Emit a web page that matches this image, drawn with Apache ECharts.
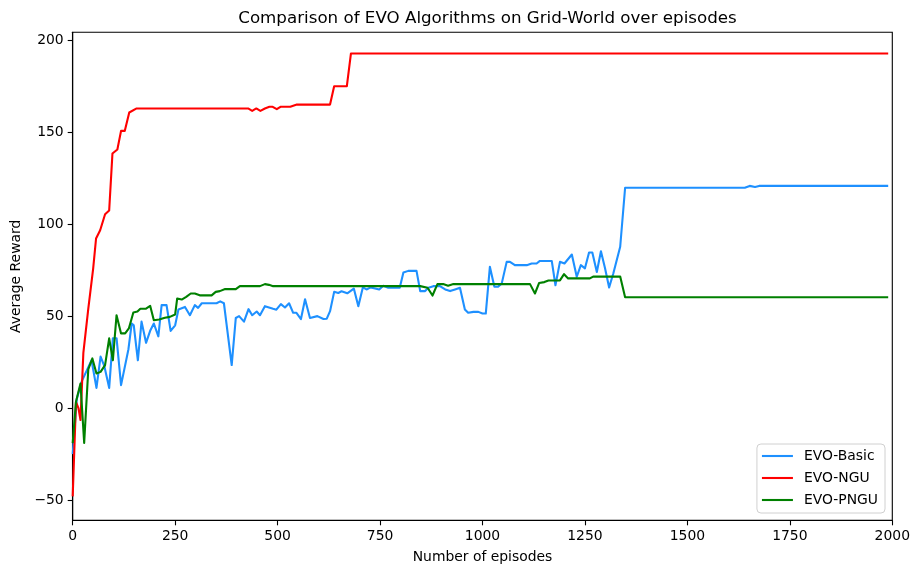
<!DOCTYPE html>
<html>
<head>
<meta charset="utf-8">
<script src="https://cdn.jsdelivr.net/npm/echarts@6/dist/echarts.min.js"></script>
<style>
  html, body { margin: 0; padding: 0; background: #fff; }
  #chart { width: 915px; height: 570px; }
</style>
</head>
<body>
<div id="chart"></div>
<script>
// Average reward per algorithm, sampled where each curve changes direction
const basicEpisodes = [0, 10, 22, 46, 58, 68, 77, 89, 98, 107, 118, 136, 144, 149, 159, 168, 179, 189, 198, 209,
  217, 229, 239, 250, 258, 274, 286, 298, 306, 315, 351, 360, 369, 388, 398, 406, 418, 429, 438, 449,
  457, 469, 489, 497, 508, 518, 528, 538, 546, 557, 567, 579, 597, 612, 620, 628, 638, 648, 656, 670,
  686, 697, 708, 717, 727, 738, 748, 758, 770, 798, 807, 819, 839, 848, 860, 868, 880, 896, 909, 921,
  933, 945, 957, 965, 978, 990, 1000, 1008, 1018, 1029, 1038, 1047, 1059, 1067, 1079, 1108, 1120, 1132, 1140, 1169,
  1178, 1189, 1200, 1218, 1230, 1240, 1250, 1260, 1268, 1279, 1289, 1299, 1309, 1319, 1336, 1348, 1640, 1652, 1665, 1675,
  1990];
const basicReward = [-25, 5, 14.5, 26, 11, 28, 23, 11, 38, 38, 12.5, 32, 46, 45, 26, 47, 35.5, 42, 46, 39,
  56, 56, 42, 45, 53.6, 55, 50.5, 56, 54.5, 57, 57, 58, 57, 23.4, 49, 50, 47, 53.8, 50.5, 52.5,
  50.5, 55.4, 54, 53.5, 56.5, 54.7, 57, 51.8, 51.8, 48.4, 59.2, 49, 50, 48.4, 48.6, 52.7, 63.2, 62.6, 63.5, 62.4,
  65, 55.4, 65.6, 64.5, 65.6, 65, 64.5, 66.5, 65.4, 65.4, 73.7, 74.6, 74.6, 63.6, 63.6, 65.4, 66.3, 66.3, 64.5, 63.6,
  64.5, 65.4, 53.6, 51.8, 52.3, 52.3, 51.4, 51.4, 76.8, 66, 66, 67.8, 79.5, 79.5, 77.7, 77.7, 78.6, 78.6, 80, 80,
  66.8, 79.5, 78.6, 83.5, 71.4, 77.7, 76, 84.6, 84.6, 74, 85.3, 76, 65.6, 73, 87.7, 119.8, 119.8, 120.8, 120.2, 120.8,
  120.8];

const nguEpisodes = [0, 8, 14, 19, 26, 38, 50, 57, 67, 79, 89, 97, 109, 118, 127, 138, 156, 428, 438, 448,
  458, 469, 480, 488, 498, 507, 531, 547, 628, 638, 669, 679, 1990];
const nguReward = [-48, 3.4, 0, -6.5, 30, 54, 76, 92.2, 96.7, 105.4, 107.4, 138.4, 140.6, 150.7, 150.7, 160.7, 162.9, 162.9, 161.6, 162.9,
  161.6, 162.9, 163.8, 163.8, 162.5, 163.8, 163.8, 165, 165, 175, 175, 192.8, 192.8];

const pnguEpisodes = [0, 8, 19, 28, 38, 48, 58, 68, 79, 89, 98, 107, 118, 128, 137, 148, 158, 165, 178, 189,
  198, 211, 225, 237, 250, 255, 266, 277, 288, 298, 310, 339, 349, 359, 372, 398, 408, 457, 469, 479,
  489, 848, 866, 878, 890, 904, 916, 929, 1116, 1128, 1138, 1151, 1161, 1189, 1199, 1209, 1262, 1270, 1336, 1348,
  1990];
const pnguReward = [-19, 3.4, 13.4, -18.9, 21, 27, 18.8, 19.7, 23.4, 37.9, 26, 50.5, 40.6, 40.6, 43.3, 52, 52.5, 54, 54, 55.6,
  47.8, 48.2, 49.1, 49.6, 50.9, 59.6, 59, 60.5, 62.3, 62.3, 61.3, 61.3, 63.2, 63.6, 64.7, 64.7, 66.3, 66.3, 67.4, 67,
  66.3, 66.3, 65.4, 61.2, 67.4, 67.4, 66.5, 67.4, 67.4, 62.3, 68, 68.5, 69.4, 69.4, 72.8, 70.5, 70.5, 71.5, 71.5, 60.3,
  60.3];

const xTicks = [0, 250, 500, 750, 1000, 1250, 1500, 1750, 2000];
const yTicks = [-50, 0, 50, 100, 150, 200];

const seriesNames = ['EVO-Basic', 'EVO-NGU', 'EVO-PNGU'];
const seriesColors = ['#1e90ff', '#ff0000', '#008000'];

function pairs(xs, ys) {
  return xs.map((x, i) => [x, ys[i]]);
}

const FONT = 'DejaVu Sans';
const minusSign = v => String(v).replace('-', '\u2212');

const chart = echarts.init(document.getElementById('chart'), null, { renderer: 'canvas' });

const lineSeries = [
  pairs(basicEpisodes, basicReward),
  pairs(nguEpisodes, nguReward),
  pairs(pnguEpisodes, pnguReward)
].map((data, i) => ({
  name: seriesNames[i],
  type: 'line',
  data: data,
  symbol: 'none',
  showSymbol: false,
  color: seriesColors[i],
  lineStyle: { width: 2.1, color: seriesColors[i], join: 'round' },
  emphasis: { disabled: true },
  animation: false
}));

chart.setOption({
  animation: false,
  backgroundColor: '#ffffff',
  title: {
    text: 'Comparison of EVO Algorithms on Grid-World over episodes',
    left: 482.5,
    top: 5,
    textAlign: 'center',
    textStyle: { fontFamily: FONT, fontSize: 16.7, fontWeight: 'normal', color: '#000' }
  },
  grid: {
    left: 72.7,
    right: 22.7,
    top: 32.3,
    bottom: 49.7,
    show: true,
    borderColor: '#000',
    borderWidth: 1.1,
    backgroundColor: 'transparent'
  },
  legend: {
    orient: 'vertical',
    right: 30,
    bottom: 57,
    data: seriesNames,
    // short horizontal stroke as the key mark
    icon: 'path://M0,0H31V2.1H0Z',
    itemWidth: 31,
    itemHeight: 14,
    itemGap: 8,
    padding: [5, 7, 6, 5],
    backgroundColor: '#ffffff',
    borderColor: '#d0d0d0',
    borderWidth: 1,
    borderRadius: 4,
    textStyle: { fontFamily: FONT, fontSize: 13.9, color: '#000', padding: [0, 0, 0, 6] }
  },
  xAxis: {
    type: 'value',
    min: 0,
    max: 2000,
    interval: 250,
    name: 'Number of episodes',
    nameLocation: 'middle',
    nameGap: 30,
    nameTextStyle: { fontFamily: FONT, fontSize: 13.9, color: '#000' },
    axisLine: { show: true, onZero: false, lineStyle: { color: '#000', width: 1.1 } },
    axisTick: { show: true, inside: false, length: 5, lineStyle: { color: '#000', width: 1.1 } },
    axisLabel: {
      fontFamily: FONT, fontSize: 13.9, color: '#000', margin: 9,
      customValues: xTicks,
      formatter: minusSign
    },
    splitLine: { show: false }
  },
  yAxis: {
    type: 'value',
    min: -61,
    max: 204.3,
    name: 'Average Reward',
    nameLocation: 'middle',
    nameRotate: 90,
    nameGap: 48,
    nameTextStyle: { fontFamily: FONT, fontSize: 13.9, color: '#000' },
    axisLine: { show: true, onZero: false, lineStyle: { color: '#000', width: 1.1 } },
    axisTick: { show: true, inside: false, length: 5, customValues: yTicks, lineStyle: { color: '#000', width: 1.1 } },
    axisLabel: {
      fontFamily: FONT, fontSize: 13.9, color: '#000', margin: 9,
      customValues: yTicks,
      formatter: minusSign
    },
    splitLine: { show: false }
  },
  series: lineSeries
});
</script>
</body>
</html>
